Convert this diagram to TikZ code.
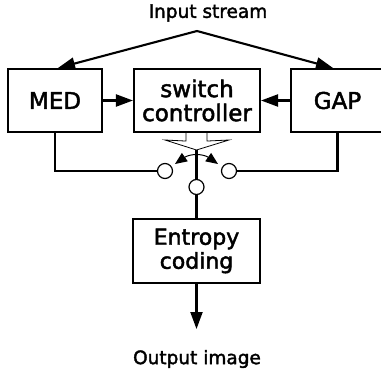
\documentclass[tikz,border=0pt]{standalone}
\usepackage{fontspec}
\setmainfont{DejaVu Sans}[FakeBold=2]
\usetikzlibrary{arrows.meta,calc}
\begin{document}
\begin{tikzpicture}[x=1pt,y=-1pt,
  con/.style={line width=2.1pt},
  arr/.style={con,-{Triangle[length=17pt,width=12pt]}},
  smallarr/.style={line width=1pt,-{Triangle[length=12pt,width=10pt]}},
  box/.style={draw,line width=2.1pt,minimum height=63pt,inner sep=0pt,
    align=center,font=\fontsize{23}{24}\selectfont},
  lbl/.style={font=\fontsize{18.5}{20}\selectfont,inner sep=0pt},
  swcirc/.style={draw,circle,line width=1.2pt,minimum size=15pt,inner sep=0pt,fill=white},
]
\useasboundingbox (0,0) rectangle (381,375);
\begin{scope}
\clip (0,0) rectangle (381,375);
\node[lbl] (in) at (208,13) {Input stream};
\coordinate (apex) at (197,31);
\node[box,minimum width=94pt] (med) at (55,100.5) {MED};
\node[box,minimum width=126pt] (sw) at (197,100.5) {switch\\controller};
\node[box,minimum width=93pt] (gap) at (337.5,100.5) {GAP};
\node[box,minimum width=127pt,minimum height=64pt,font=\fontsize{22}{24}\selectfont] (ent) at (196.5,251) {Entropy\\coding};
\node[lbl] (out) at (197,359) {Output image};
\coordinate (outtip) at (196.5,329);

\draw[arr] (apex) -- ($(med.north)+(3,0)$);
\draw[arr] (apex) -- ($(gap.north)+(-4.5,0)$);
\draw[arr] (med.east) -- (sw.west);
\draw[arr] (gap.west) -- (sw.east);

% hollow arrow
\coordinate (tip) at (196.5,150);
\draw[line width=0.8pt,fill=white]
  ($(sw.south)+(-11,0)$) -- ++(0,8) -- (165,140) -- (tip) -- (229,140)
  -- ($(sw.south)+(10,8)$) -- ($(sw.south)+(10,0)$);

\node[swcirc] (cl) at (165,171) {};
\node[swcirc] (cr) at (229,171) {};
\node[swcirc] (cb) at (196.5,187) {};

\draw[con] (med.south) |- (cl.west);
\draw[con] (gap.south) |- (cr.east);
\draw[con] (tip) -- (cb.north);
\draw[con] (cb.south) -- (ent.north);
\draw[arr] (ent.south) -- (outtip);

\coordinate (sa) at (196.5,154.5);
\coordinate (sl) at (175,164);
\coordinate (sr) at (218,164);
\draw[smallarr] (sa) to[out=180,in=35] (sl);
\draw[smallarr] (sa) to[out=0,in=145] (sr);
\end{scope}
\end{tikzpicture}
\end{document}
